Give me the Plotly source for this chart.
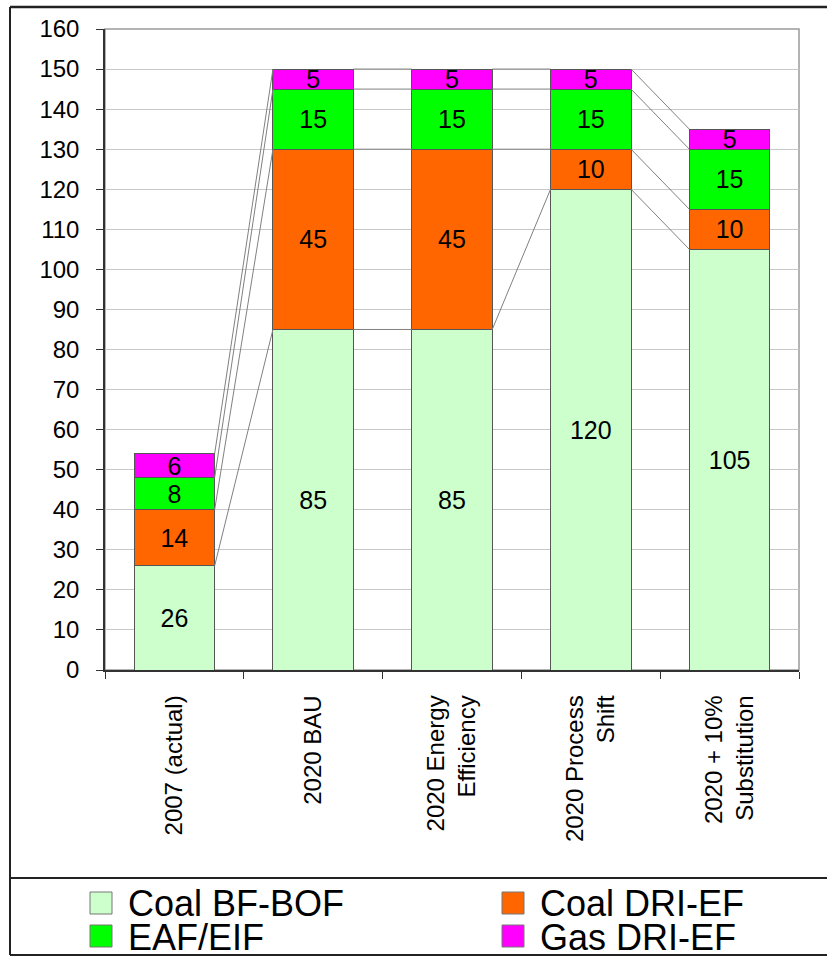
import plotly.graph_objects as go

# ---------------- data ----------------
categories = ["2007 (actual)", "2020 BAU", "2020 Energy<br>Efficiency",
              "2020 Process<br>Shift", "2020 + 10%<br>Substitution"]
series_names = ["Coal BF-BOF", "Coal DRI-EF", "EAF/EIF", "Gas DRI-EF"]
coal_bf_bof = [26, 85, 85, 120, 105]
coal_dri_ef = [14, 45, 45, 10, 10]
eaf_eif = [8, 15, 15, 15, 15]
gas_dri_ef = [6, 5, 5, 5, 5]
y_tick_values = list(range(0, 161, 10))

series_values = [coal_bf_bof, coal_dri_ef, eaf_eif, gas_dri_ef]
colors = ["#CCFFCC", "#FF6600", "#00FF00", "#FF00FF"]

# ---------------- layout geometry (pixels) ----------------
W, H = 827, 958
L, R, T, B = 105, 799, 29, 670
BAR_W = 0.58
FONT = "Liberation Sans, Arial, Helvetica, sans-serif"


def px_x(px):
    return (px - L) / (R - L)


def px_y(py):
    return (B - py) / (B - T)


xs = list(range(len(categories)))
fig = go.Figure()

# series lines connecting segment tops of neighbouring bars
cum = []
running = [0] * len(categories)
for vals in series_values:
    running = [a + b for a, b in zip(running, vals)]
    cum.append(list(running))

lx, ly = [], []
for level in cum:
    for i in range(len(categories) - 1):
        lx += [xs[i] + BAR_W / 2, xs[i + 1] - BAR_W / 2, None]
        ly += [level[i], level[i + 1], None]
fig.add_trace(go.Scatter(x=lx, y=ly, mode="lines",
                         line=dict(color="#808080", width=1),
                         hoverinfo="skip", showlegend=False))

for name, vals, col in zip(series_names, series_values, colors):
    fig.add_trace(go.Bar(
        x=xs, y=vals, name=name, width=BAR_W,
        marker=dict(color=col, line=dict(color="#555555", width=1)),
        text=[str(v) for v in vals], textposition="inside",
        insidetextanchor="middle", textangle=0, constraintext="none",
        textfont=dict(family=FONT, size=25, color="black"),
        showlegend=False,
    ))

# ---------------- shapes: plot frame, outer border, legend separator ----------------
shapes = [
    dict(type="rect", xref="paper", yref="paper", x0=0, x1=1, y0=0, y1=1,
         line=dict(color="#9a9a9a", width=1.5), layer="below"),
    # outer border (left, top, bottom)
    dict(type="line", xref="paper", yref="paper", x0=px_x(10), x1=px_x(10),
         y0=px_y(7), y1=px_y(955), line=dict(color="#222222", width=2)),
    dict(type="line", xref="paper", yref="paper", x0=px_x(10), x1=px_x(835),
         y0=px_y(7), y1=px_y(7), line=dict(color="#222222", width=2.5)),
    dict(type="line", xref="paper", yref="paper", x0=px_x(10), x1=px_x(835),
         y0=px_y(955), y1=px_y(955), line=dict(color="#222222", width=2)),
    dict(type="line", xref="paper", yref="paper", x0=px_x(10), x1=px_x(835),
         y0=px_y(878), y1=px_y(878), line=dict(color="#222222", width=2)),
]

# manual legend (two columns, two rows)
annotations = []
leg_cols = [90, 502]
leg_rows = [903, 936]
SW = 22
for k, (name, col) in enumerate(zip(series_names, colors)):
    cx = leg_cols[k % 2]
    cy = leg_rows[k // 2]
    shapes.append(dict(type="rect", xref="paper", yref="paper",
                       x0=px_x(cx), x1=px_x(cx + SW),
                       y0=px_y(cy - SW / 2), y1=px_y(cy + SW / 2),
                       fillcolor=col, line=dict(color="#777777", width=1)))
    annotations.append(dict(xref="paper", yref="paper", x=px_x(cx + SW + 14),
                            y=px_y(cy + 1), xanchor="left", yanchor="middle",
                            text=name, showarrow=False,
                            font=dict(family=FONT, size=36, color="black")))

fig.update_layout(
    width=W, height=H, autosize=False,
    margin=dict(l=L, r=W - R, t=T, b=H - B, autoexpand=False),
    barmode="stack", bargap=0.42,
    plot_bgcolor="white", paper_bgcolor="white",
    font=dict(family=FONT, size=24, color="black"),
    shapes=shapes, annotations=annotations,
    showlegend=False,
)

fig.update_xaxes(
    range=[-0.5, len(categories) - 0.5],
    tickmode="array", tickvals=xs, ticktext=categories,
    tickangle=-90, ticks="outside", ticklen=0,
    tickfont=dict(family=FONT, size=24, color="black"),
    ticklabelstandoff=14,
    showgrid=False, zeroline=False,
    showline=True, linecolor="#333333", linewidth=1.5,
    minor=dict(ticks="outside", ticklen=7, tickcolor="#333333", tickwidth=1,
               tickmode="linear", tick0=-0.5, dtick=1, showgrid=False),
)
fig.update_yaxes(
    range=[0, 160], tickmode="array", tickvals=y_tick_values,
    ticks="outside", ticklen=7, tickcolor="#333333",
    tickfont=dict(family=FONT, size=24, color="black"),
    ticklabelstandoff=12,
    showgrid=True, gridcolor="#c8c8c8", gridwidth=1,
    zeroline=False, showline=True, linecolor="#333333", linewidth=1.5,
)

fig.write_html("out.html")
